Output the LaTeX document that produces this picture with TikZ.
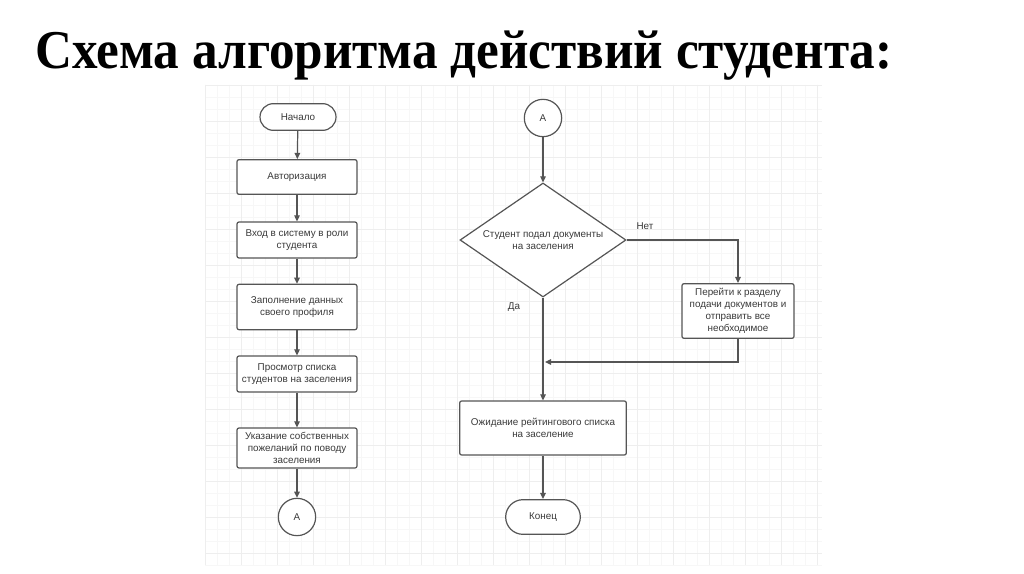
\documentclass[tikz,border=0pt]{standalone}
\usepackage{fontspec}
\setmainfont{Liberation Serif}
\newfontfamily\flowfont{Liberation Sans}
\usetikzlibrary{arrows.meta,positioning,calc,shapes.geometric}
\definecolor{fcline}{HTML}{555555}
\definecolor{fctext}{HTML}{3A3A3A}
\definecolor{fcgrid}{HTML}{F7F7F7}
\definecolor{fcgridmajor}{HTML}{EEEEEE}
\tikzset{
  flowBox/.style={draw=fcline, line width=0.9pt, fill=white, rounded corners=1.5pt, align=center, inner sep=2pt, text=fctext, font=\flowfont\fontsize{7.4}{9}\selectfont},
  termBox/.style={flowBox, rounded corners=10pt},
  linkCircle/.style={draw=fcline, line width=0.9pt, fill=white, circle, inner sep=0pt, minimum size=28pt, text=fctext, font=\flowfont\fontsize{7.4}{9}\selectfont},
  decisionBox/.style={flowBox, diamond, rounded corners=0pt, shape aspect=1.45, inner sep=0pt, minimum width=124.5pt, minimum height=85.5pt},
  flowArrow/.style={-{Triangle[length=4.6pt, width=4.2pt]}, line width=0.9pt, draw=fcline},
  flowLabel/.style={text=fctext, font=\flowfont\fontsize{7.4}{9}\selectfont}
}
\begin{document}
\begin{tikzpicture}[x=0.75pt,y=-0.75pt]
  \useasboundingbox (0,0) rectangle (1024,574);
  \fill[white] (0,0) rectangle (1024,574);
  % grid paper
  \foreach \gx in {205,217,...,822} \draw[fcgrid, line width=0.5pt] (\gx,85) -- (\gx,565);
  \foreach \gy in {85,97,...,565} \draw[fcgrid, line width=0.5pt] (205,\gy) -- (822,\gy);
  \foreach \gx in {205,241,...,822} \draw[fcgridmajor, line width=0.6pt] (\gx,85) -- (\gx,565);
  \foreach \gy in {85,121,...,565} \draw[fcgridmajor, line width=0.6pt] (205,\gy) -- (822,\gy);
  % title
  \node[anchor=base west, inner sep=0pt, xscale=0.937, font=\bfseries\fontsize{41}{46}\selectfont] (title) at (35,69) {Схема алгоритма действий студента:};
  % left column
  \node[termBox, minimum width=57pt, minimum height=20pt] (start) at (298,117) {Начало};
  \node[flowBox, minimum width=90pt, minimum height=26pt] (auth) at (297,177) {Авторизация};
  \node[flowBox, minimum width=90pt, minimum height=27pt] (login) at (297,240) {Вход в систему в роли\\студента};
  \node[flowBox, minimum width=90pt, minimum height=34pt] (profile) at (297,307) {Заполнение данных\\своего профиля};
  \node[flowBox, minimum width=90pt, minimum height=27pt] (list) at (297,374) {Просмотр списка\\студентов на заселения};
  \node[flowBox, minimum width=90pt, minimum height=30pt] (wishes) at (297,448) {Указание собственных\\пожеланий по поводу\\заселения};
  \node[linkCircle] (linkOut) at (297,517) {А};
  % right column
  \node[linkCircle] (linkIn) at (543,118) {А};
  \node[decisionBox] (submitted) at (543,240) {Студент подал документы\\на заселения};
  \node[flowBox, minimum width=84pt, minimum height=41pt] (submit) at (738,311) {Перейти к разделу\\подачи документов и\\отправить все\\необходимое};
  \node[flowBox, minimum width=125pt, minimum height=40.5pt] (wait) at (543,428) {Ожидание рейтингового списка\\на заселение};
  \node[termBox, minimum width=56pt, minimum height=26pt, rounded corners=13pt] (finish) at (543,517) {Конец};
  \coordinate (join) at (543,362);
  \node[flowLabel] (noLabel) at (645,226) {Нет};
  \node[flowLabel] (yesLabel) at (514,307) {Да};
  % connectors
  \draw[flowArrow] (start) -- (auth);
  \draw[flowArrow] (auth) -- (login);
  \draw[flowArrow] (login) -- (profile);
  \draw[flowArrow] (profile) -- (list);
  \draw[flowArrow] (list) -- (wishes);
  \draw[flowArrow] (wishes) -- (linkOut);
  \draw[flowArrow] (linkIn) -- (submitted);
  \draw[flowArrow] (submitted.east) -| (submit.north);
  \draw[flowArrow] (submit.south) |- ([xshift=1.5pt]join);
  \draw[flowArrow] (submitted.south) -- (wait.north);
  \draw[flowArrow] (wait) -- (finish);
\end{tikzpicture}
\end{document}
